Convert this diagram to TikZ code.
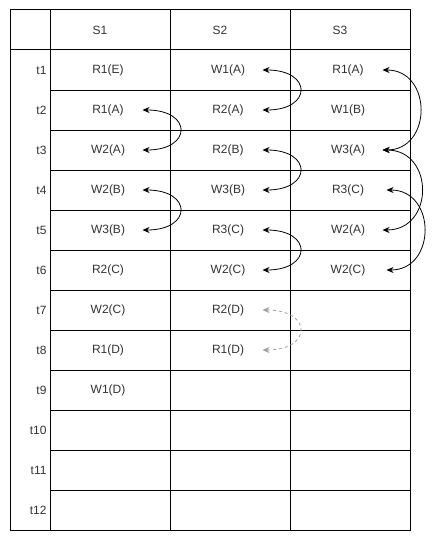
\documentclass[tikz,border=0pt]{standalone}
\usepackage{fontspec}
\setmainfont{Liberation Sans}
\usetikzlibrary{arrows.meta}

\definecolor{txt}{HTML}{333333}
\definecolor{dim}{HTML}{A0A0A0}

\begin{document}
\begin{tikzpicture}[x=1pt,y=-1pt,line width=1pt,
  op/.style={inner sep=0pt,minimum width=68pt,text=txt,font=\fontsize{12}{14}\selectfont},
  lbl/.style={inner sep=0pt,text=txt,font=\fontsize{12}{14}\selectfont},
  link/.style={{Stealth[length=7pt,width=6pt]}-{Stealth[length=7pt,width=6pt]},line width=0.8pt},
  weak/.style={link,dim,dashed,dash pattern=on 3pt off 3pt}]
\useasboundingbox (0,0) rectangle (436,543);
% table
\draw (10,10) rectangle (410,530);
\draw (10,50) -- (410,50);
\foreach \x in {50,170,290} {
  \draw (\x,10) -- (\x,530);
}
\foreach \i in {2,...,12} {
  \draw (50,{10+40*\i}) -- (410,{10+40*\i});
}
% header and times
\foreach \j in {1,2,3} {
  \node[lbl,anchor=west] (h_\j) at ({-28+120*\j},30) {S\j};
}
\foreach \i in {1,...,12} {
  \node[lbl,anchor=east] (t_\i) at (47,{30+40*\i}) {t\i};
}
% operations
\foreach \i/\o in {1/R1(E),2/R1(A),3/W2(A),4/W2(B),5/W3(B),6/R2(C),7/W2(C),8/R1(D),9/W1(D)} {
  \node[op] (a_\i) at (108,{30+40*\i}) {\o};
}
\foreach \i/\o in {1/W1(A),2/R2(A),3/R2(B),4/W3(B),5/R3(C),6/W2(C),7/R2(D),8/R1(D)} {
  \node[op] (b_\i) at (228,{30+40*\i}) {\o};
}
\foreach \i/\o in {1/R1(A),2/W1(B),3/W3(A),4/R3(C),5/W2(A),6/W2(C)} {
  \node[op] (c_\i) at (348,{30+40*\i}) {\o};
}
% conflicts
\draw[link] (a_2.east) .. controls +(50,0) and +(50,0) .. (a_3.east);
\draw[link] (a_4.east) .. controls +(50,0) and +(50,0) .. (a_5.east);
\draw[link] (b_1.east) .. controls +(50,0) and +(50,0) .. (b_2.east);
\draw[link] (b_3.east) .. controls +(50,0) and +(50,0) .. (b_4.east);
\draw[link] (b_5.east) .. controls +(50,0) and +(50,0) .. (b_6.east);
\draw[weak] (b_7.east) .. controls +(50,0) and +(50,0) .. (b_8.east);
\draw[link] (c_1.east) .. controls +(50,0) and +(50,0) .. (c_3.east);
\draw[link] (c_3.east) .. controls +(52,0) and +(52,0) .. (c_5.east);
\draw[link] ([xshift=4pt]c_4.east) .. controls +(50,0) and +(50,0) .. ([xshift=4pt]c_6.east);
\end{tikzpicture}
\end{document}
